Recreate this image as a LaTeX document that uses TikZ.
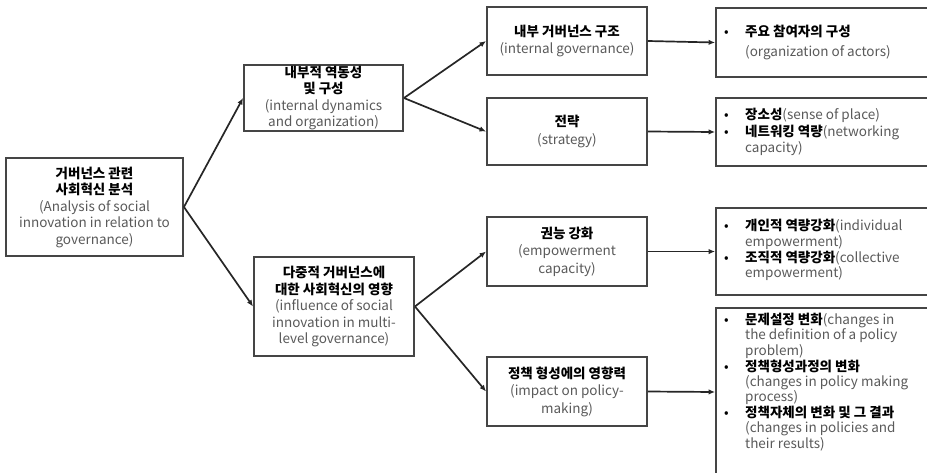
\documentclass[tikz,border=0pt]{standalone}
\usepackage{fontspec}
\setmainfont{Noto Sans CJK KR}
\usetikzlibrary{arrows.meta}
\definecolor{boxgray}{HTML}{454545}
\definecolor{engray}{HTML}{5A5A5A}
\newcommand{\engl}[1]{\textcolor{engray}{#1}}
\newcommand{\kor}[1]{\textbf{#1}}
\begin{document}
\begin{tikzpicture}[x=1pt,y=-1pt,
  box/.style={draw=boxgray, line width=1.9pt, fill=white, inner sep=0pt},
  conn/.style={-{Latex[length=6.5pt,width=5.5pt]}, line width=1.7pt, draw=black!85},
  midtext/.style={align=center, font=\fontsize{13.5}{17.5}\selectfont},
  lefttext/.style={align=center, font=\fontsize{13.5}{16.5}\selectfont},
  bultext/.style={anchor=west, inner sep=0pt}]
\useasboundingbox (0,0) rectangle (927,472);
\clip (0,0) rectangle (927,472);

% first level
\node[box, lefttext, minimum width=177pt, minimum height=98pt] (root) at (94.5,207)
  {\kor{거버넌스 관련}\\\kor{사회혁신 분석}\\\engl{(Analysis of social}\\\engl{innovation in relation to}\\\engl{governance)}};

% second level
\node[box, lefttext, minimum width=159pt, minimum height=66pt] (dyn) at (323.5,98)
  {\kor{내부적 역동성}\\\kor{및 구성}\\\engl{(internal dynamics}\\\engl{and organization)}};
\node[box, lefttext, minimum width=160pt, minimum height=99pt] (infl) at (334,306.5)
  {\kor{다중적 거버넌스에}\\\kor{대한 사회혁신의 영향}\\\engl{(influence of social}\\\engl{innovation in multi-}\\\engl{level governance)}};

% third level
\node[box, midtext, minimum width=160pt, minimum height=68pt] (gov) at (567,41)
  {\kor{내부 거버넌스 구조}\\\engl{(internal governance)}};
\node[box, midtext, minimum width=160pt, minimum height=67pt] (strat) at (567,131.5)
  {\kor{전략}\\\engl{(strategy)}};
\node[box, midtext, minimum width=160pt, minimum height=69pt] (emp) at (567,251.5)
  {\kor{권능 강화}\\\engl{(empowerment}\\\engl{capacity)}};
\node[box, midtext, minimum width=160pt, minimum height=69pt] (pol) at (567,391.5)
  {\kor{정책 형성에의 영향력}\\\engl{(impact on policy-}\\\engl{making)}};

% fourth level boxes (running past the right edge)
\node[box, minimum width=224pt, minimum height=69pt] (actors) at (828,42.5) {};
\node[box, minimum width=224pt, minimum height=68pt] (place) at (828,132) {};
\node[box, minimum width=224pt, minimum height=87pt] (indiv) at (828,251.5) {};
\node[box, minimum width=224pt, minimum height=168pt] (change) at (828,392) {};

% fourth level texts
\node[bultext, font=\fontsize{13.5}{16.5}\selectfont] (actorsT) at (724,43)
  {\begin{tabular}{@{}p{21pt}@{}l@{}}
   • & \kor{주요 참여자의 구성}\\[3pt]
     & \engl{(organization of actors)}
   \end{tabular}};
\node[bultext, font=\fontsize{13.5}{16.5}\selectfont] (placeT) at (724,133)
  {\begin{tabular}{@{}p{21pt}@{}l@{}}
   • & \kor{장소성}\engl{(sense of place)}\\
   • & \kor{네트워킹 역량}\engl{(networking}\\
     & \engl{capacity)}
   \end{tabular}};
\node[bultext, font=\fontsize{13.5}{15}\selectfont] (indivT) at (724,251)
  {\begin{tabular}{@{}p{21pt}@{}l@{}}
   • & \kor{개인적 역량강화}\engl{(individual}\\
     & \engl{empowerment)}\\
   • & \kor{조직적 역량강화}\engl{(collective}\\
     & \engl{empowerment)}
   \end{tabular}};
\node[bultext, font=\fontsize{13.5}{14.4}\selectfont] (changeT) at (724,383)
  {\begin{tabular}{@{}p{21pt}@{}l@{}}
   • & \kor{문제설정 변화}\engl{(changes in}\\
     & \engl{the definition of a policy}\\
     & \engl{problem)}\\
   • & \kor{정책형성과정의 변화}\\
     & \engl{(changes in policy making}\\
     & \engl{process)}\\
   • & \kor{정책자체의 변화 및 그 결과}\\
     & \engl{(changes in policies and}\\
     & \engl{their results)}
   \end{tabular}};

% connectors
\draw[conn] (root.east) -- (dyn.west);
\draw[conn] (root.east) -- (infl.west);
\draw[conn] (dyn.east) -- (gov.west);
\draw[conn] (dyn.east) -- (strat.west);
\draw[conn] (infl.east) -- (emp.west);
\draw[conn] (infl.east) -- (pol.west);
\draw[conn] (gov.east) -- (actors.west);
\draw[conn] (strat.east) -- (place.west);
\draw[conn] (emp.east) -- (indiv.west);
\draw[conn] (pol.east) -- (change.west);
\end{tikzpicture}
\end{document}
